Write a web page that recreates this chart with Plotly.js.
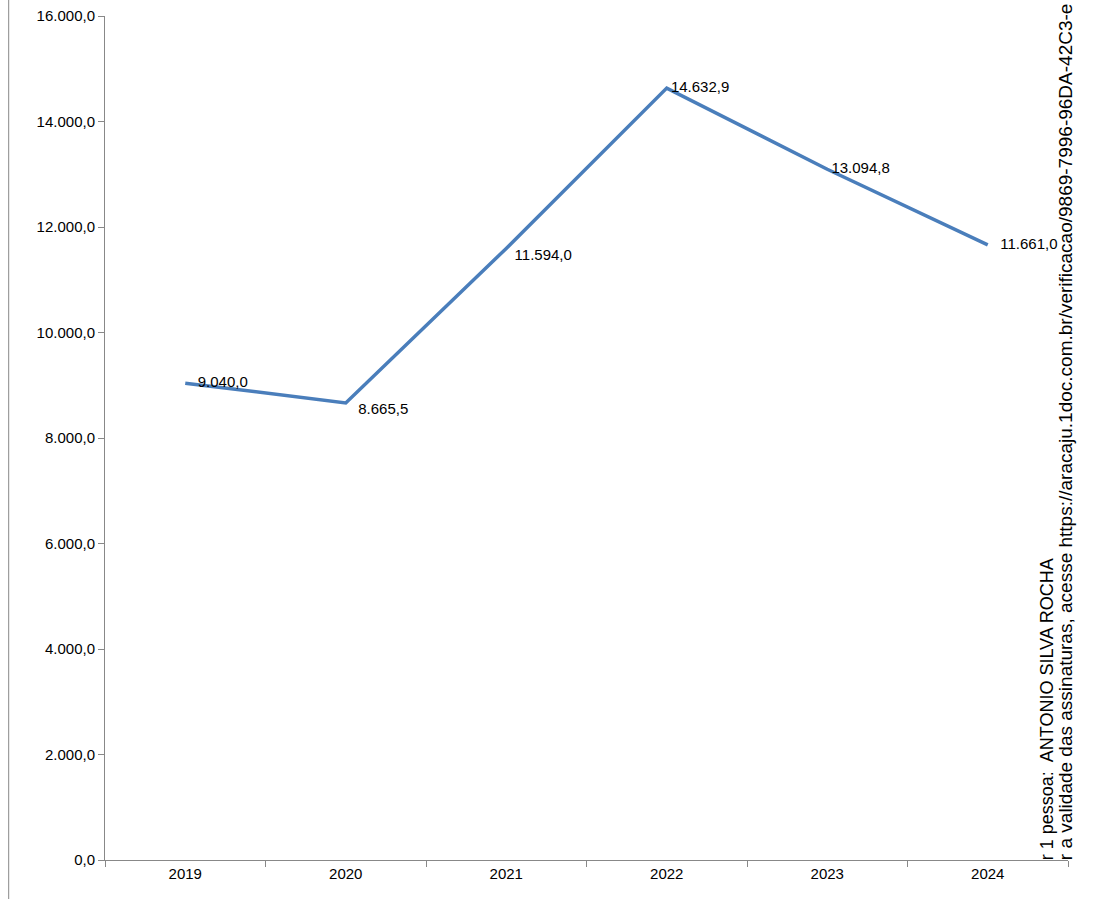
<!DOCTYPE html>
<html>
<head>
<meta charset="utf-8">
<script src="https://cdn.plot.ly/plotly-3.0.1.min.js"></script>
<style>body{margin:0;background:#fff}</style>
</head>
<body>
<div id="chart" style="width:1100px;height:899px"></div>
<script>
// Data
let years = ["2019", "2020", "2021", "2022", "2023", "2024"];
let values = [9040.0, 8665.5, 11594.0, 14632.9, 13094.8, 11661.0];
let labels = ["   9.040,0", "   8.665,5", "  11.594,0", " 14.632,9", " 13.094,8", "   11.661,0"];
let yTicks = [0, 2000, 4000, 6000, 8000, 10000, 12000, 14000, 16000];
let yTickText = ["0,0", "2.000,0", "4.000,0", "6.000,0", "8.000,0", "10.000,0", "12.000,0", "14.000,0", "16.000,0"];

let trace = {
  x: years,
  y: values,
  type: "scatter",
  mode: "lines+text",
  text: labels,
  textposition: ["middle right", "bottom right", "bottom right", "middle right", "middle right", "middle right"],
  textfont: {family: "Arial, Liberation Sans", size: 15, color: "#000"},
  line: {color: "#4a7ebb", width: 3.5},
  cliponaxis: false,
  hoverinfo: "none"
};

let layout = {
  margin: {l: 105, r: 32, t: 16, b: 39},
  showlegend: false,
  paper_bgcolor: "#fff",
  plot_bgcolor: "#fff",
  font: {family: "Arial, Liberation Sans", size: 15, color: "#000"},
  xaxis: {
    type: "category",
    range: [-0.5, 5.5],
    tickson: "boundaries",
    ticks: "outside",
    ticklen: 6,
    tickcolor: "#888",
    showline: true,
    linecolor: "#888",
    showgrid: false,
    tickfont: {size: 15}
  },
  yaxis: {
    range: [0, 16000],
    tickvals: yTicks,
    ticktext: yTickText,
    ticks: "outside",
    ticklen: 6,
    tickcolor: "#888",
    showline: true,
    linecolor: "#888",
    showgrid: false,
    zeroline: false,
    tickfont: {size: 15}
  },
  shapes: [
    {type: "line", xref: "paper", yref: "paper", x0: -0.100, x1: -0.100, y0: -0.05, y1: 1.02, line: {color: "#888", width: 1}}
  ],
  annotations: [
    {text: "r 1 pessoa:  ANTONIO SILVA ROCHA", xref: "paper", yref: "paper", x: 0.978, y: -0.003, xanchor: "center", yanchor: "bottom", textangle: -90, showarrow: false, font: {size: 18, family: "Arial, Liberation Sans"}},
    {text: "r a validade das assinaturas, acesse https://aracaju.1doc.com.br/verificacao/9869-7996-96DA-42C3-e", xref: "paper", yref: "paper", x: 0.997, y: -0.003, xanchor: "center", yanchor: "bottom", textangle: -90, showarrow: false, font: {size: 19, family: "Arial, Liberation Sans"}}
  ]
};

Plotly.newPlot("chart", [trace], layout, {displayModeBar: false});
</script>
</body>
</html>
